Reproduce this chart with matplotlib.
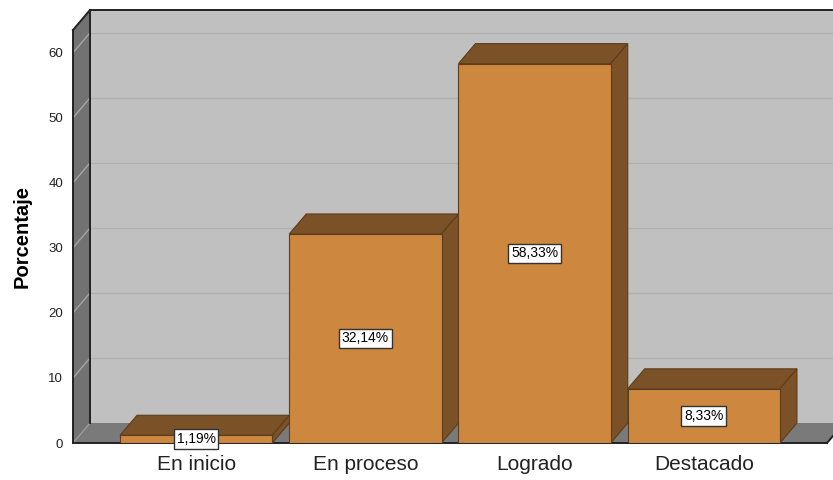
import matplotlib.pyplot as plt
from matplotlib.patches import Polygon

plt.rcParams['font.family'] = ['Liberation Sans', 'DejaVu Sans']

categorias = ["En inicio", "En proceso", "Logrado", "Destacado"]
porcentajes = [1.19, 32.14, 58.33, 8.33]
etiquetas = ["1,19%", "32,14%", "58,33%", "8,33%"]
yticks = [0, 10, 20, 30, 40, 50, 60]

frente = "#cd873f"
sombra = "#7b5128"
borde_barra = "#5e3d1c"

fig = plt.figure(figsize=(8.33, 4.8), dpi=100)
ax = fig.add_axes([73 / 833, 37 / 480, 754 / 833, 413 / 480])
x0, x1 = -0.728, 3.728
ymax = 63.5
ax.set_xlim(x0, x1)
ax.set_ylim(0, ymax)

# profundidad del efecto 3D en unidades de datos
dx = 17 / (ax.bbox.width / (x1 - x0))
dy = 20 / (ax.bbox.height / ymax)

# paredes y piso
pared_fondo = Polygon([(x0 + dx, dy), (x1 + dx, dy), (x1 + dx, ymax + dy), (x0 + dx, ymax + dy)],
                      fc="#c0c0c0", ec="none", zorder=0.5, clip_on=False)
pared_izq = Polygon([(x0, 0), (x0 + dx, dy), (x0 + dx, ymax + dy), (x0, ymax)],
                    fc="#727272", ec="none", zorder=0.5, clip_on=False)
piso = Polygon([(x0, 0), (x1, 0), (x1 + dx, dy), (x0 + dx, dy)],
               fc="#7a7a7a", ec="none", zorder=0.5, clip_on=False)
for p in (pared_fondo, pared_izq, piso):
    ax.add_patch(p)

for v in yticks[1:]:
    ax.plot([x0 + dx, x1 + dx], [v + dy, v + dy], color="#b1b1b1", lw=1, zorder=0.6, clip_on=False)
    ax.plot([x0, x0 + dx], [v, v + dy], color="#a5a5a5", lw=1, zorder=0.6, clip_on=False)
ax.plot([x0, x0 + dx], [0, dy], color="#9a9a9a", lw=1, zorder=0.6)

# bordes del marco
ln = dict(color="#222222", lw=1.4, zorder=0.7, clip_on=False)
ax.plot([x0, x0], [0, ymax], **ln)
ax.plot([x0, x0 + dx], [ymax, ymax + dy], **ln)
ax.plot([x0 + dx, x1 + dx], [ymax + dy, ymax + dy], **ln)
ax.plot([x0 + dx, x0 + dx], [dy, ymax + dy], **ln)
ax.plot([x0, x1], [0, 0], **ln)
ax.plot([x1, x1 + dx], [0, dy], **ln)

# barras con cara superior y lateral
ancho = 0.9
x = list(range(len(categorias)))
ax.bar(x, porcentajes, width=ancho, color=frente, edgecolor=borde_barra, lw=0.8, zorder=3)
for xi, v in zip(x, porcentajes):
    l, r = xi - ancho / 2, xi + ancho / 2
    ax.add_patch(Polygon([(l, v), (r, v), (r + dx, v + dy), (l + dx, v + dy)],
                         fc=sombra, ec=borde_barra, lw=0.8, zorder=2.5, clip_on=False))
    ax.add_patch(Polygon([(r, 0), (r + dx, dy), (r + dx, v + dy), (r, v)],
                         fc=sombra, ec=borde_barra, lw=0.8, zorder=2.5, clip_on=False))

for xi, v, t in zip(x, porcentajes, etiquetas):
    ax.text(xi, v / 2, t, ha="center", va="center", fontsize=10, zorder=5,
            bbox=dict(boxstyle="square,pad=0.2", fc="white", ec="#333333", lw=1))

for s in ax.spines.values():
    s.set_visible(False)
ax.set_yticks(yticks)
ax.set_xticks(x, categorias)
ax.tick_params(axis="y", length=0, pad=7, labelsize=9.5, labelcolor="#222222")
ax.tick_params(axis="x", length=0, pad=9, labelsize=15, labelcolor="#222222")

fig.text(22 / 833, 1 - 236 / 480, "Porcentaje", rotation=90, ha="center", va="center",
         fontsize=14.5, fontweight="bold")

fig.savefig("out.png", dpi=100)
